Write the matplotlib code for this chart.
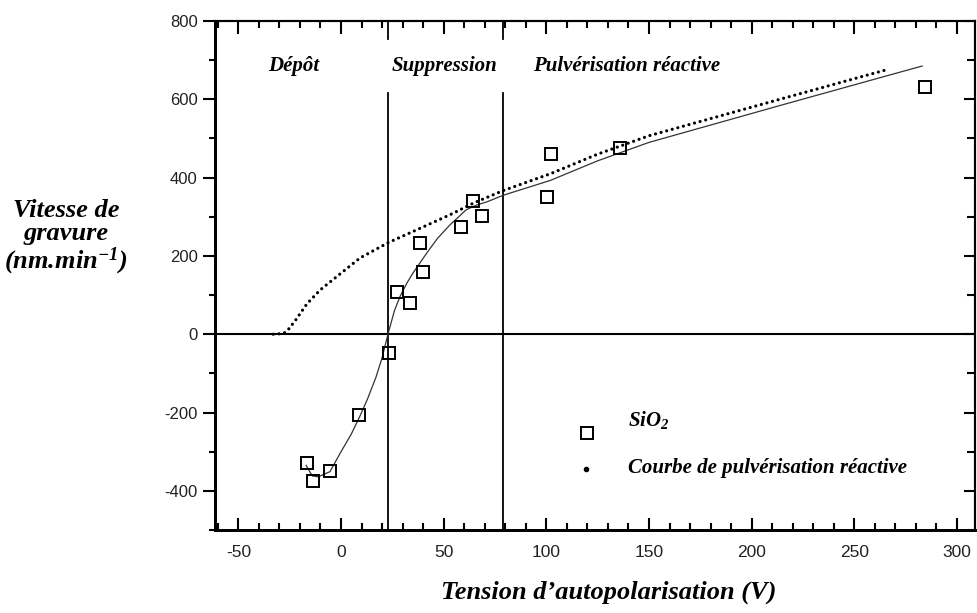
import matplotlib.pyplot as plt
from matplotlib.ticker import MultipleLocator

plt.rcParams['axes.unicode_minus'] = False
plt.rcParams['mathtext.fontset'] = 'custom'
plt.rcParams['mathtext.rm'] = 'Liberation Serif:bold:italic'
plt.rcParams['mathtext.it'] = 'Liberation Serif:bold:italic'
plt.rcParams['mathtext.bf'] = 'Liberation Serif:bold:italic'

# SiO2 etch rate measurements (V, nm/min)
sio2_v = [-16.7, -13.5, -5.4, 8.9, 23.5, 27.4, 33.6, 38.5, 39.8, 58.5, 64.2, 68.7, 100.2, 102.3, 135.9, 284.5]
sio2_rate = [-329, -375, -349, -206, -49, 108, 81, 232, 160, 273, 341, 301, 350, 461, 476, 632]

# hand-drawn trend through the SiO2 points
fit_v = [-17, -14, -11, -5.4, 0, 5, 9.3, 13, 17, 20, 23, 26, 28.7, 32, 35, 41.7, 47, 53, 61, 66, 71, 79,
         102, 125, 150, 215, 263, 283]
fit_rate = [-335, -362, -364, -351, -300, -255, -208, -164, -110, -60, 3, 60, 96, 130, 156, 207, 245, 279,
            318, 330, 338, 355, 393, 443, 490, 586, 656, 685]

# reactive sputtering curve
rs_v = [-33, -28, -26, -22.4, -16.7, -10.2, 0, 9.3, 23, 37, 53, 64.5, 79, 102, 125, 150, 215, 266]
rs_rate = [0, 2, 10, 34, 77, 113, 156, 195, 234, 267, 305, 335, 367, 410, 460, 507, 602, 676]

# regime boundaries (V)
boundaries = [23, 79]
regimes = ["Dépôt", "Suppression", "Pulvérisation réactive"]
regime_x = [-22.9, 50.6, 139.3]

xlim = (-61.4, 308.8)
ylim = (-500, 800)

serif = dict(family='Liberation Serif', weight='bold', style='italic')

fig = plt.figure(figsize=(9.78, 6.13), dpi=100)
ax = fig.add_axes([0.2198, 0.1354, 0.7772, 0.8303])

ax.axhline(0, color='black', lw=1.5, zorder=1)
for b in boundaries:
    ax.plot([b, b], [ylim[0], 617], color='black', lw=1.3, zorder=1)
    ax.plot([b, b], [754, ylim[1]], color='black', lw=1.3, zorder=1)

ax.plot(fit_v, fit_rate, color='#333333', lw=0.9, zorder=2)
ax.plot(rs_v, rs_rate, color='black', lw=2.3, ls=(0, (0.01, 1.8)),
        dash_capstyle='round', zorder=3)
ax.plot(sio2_v, sio2_rate, ls='none', marker='s', ms=8.5, mfc='none',
        mec='black', mew=1.4, zorder=4)

for name, x in zip(regimes, regime_x):
    ax.text(x, 686, name, ha='center', va='center', fontsize=15, **serif)

# key
ax.plot([0.4895], [0.1906], transform=ax.transAxes, ls='none', marker='s',
        ms=8.5, mfc='none', mec='black', mew=1.4, clip_on=False)
ax.plot([0.488], [0.12], transform=ax.transAxes, ls='none', marker='o',
        ms=3, color='black', clip_on=False)
ax.text(0.5434, 0.216, r"SiO$_2$", transform=ax.transAxes, ha='left',
        va='center', fontsize=15, **serif)
ax.text(0.5434, 0.1218, "Courbe de pulvérisation réactive", transform=ax.transAxes,
        ha='left', va='center', fontsize=15, **serif)

ax.set_xlim(*xlim)
ax.set_ylim(*ylim)
ax.xaxis.set_major_locator(MultipleLocator(50))
ax.xaxis.set_minor_locator(MultipleLocator(10))
ax.yaxis.set_major_locator(MultipleLocator(200))
ax.yaxis.set_minor_locator(MultipleLocator(100))

ax.tick_params(axis='x', which='both', direction='in', top=True, bottom=True, width=1.5)
ax.tick_params(axis='x', which='major', length=9, pad=11, labelsize=12.5)
ax.tick_params(axis='x', which='minor', length=5)
ax.tick_params(axis='y', which='both', direction='out', left=True, right=False, width=1.5)
ax.tick_params(axis='y', which='major', length=8.5, pad=4, labelsize=12)
ax.tick_params(axis='y', which='minor', length=4)
for lab in ax.get_xticklabels() + ax.get_yticklabels():
    lab.set_family('Liberation Sans')
    lab.set_color('#222222')

# inward ticks on the right spine
ax2 = ax.twinx()
ax2.set_ylim(*ylim)
ax2.yaxis.set_major_locator(MultipleLocator(200))
ax2.yaxis.set_minor_locator(MultipleLocator(100))
ax2.tick_params(axis='y', which='both', direction='in', right=True, labelright=False, width=1.5)
ax2.tick_params(axis='y', which='major', length=8)
ax2.tick_params(axis='y', which='minor', length=6)

for a in (ax, ax2):
    a.spines['left'].set_linewidth(2.0)
    a.spines['bottom'].set_linewidth(2.0)
    a.spines['top'].set_linewidth(1.5)
    a.spines['right'].set_linewidth(1.5)

fig.text(0.6227, 0.0343, "Tension d\u2019autopolarisation (V)", ha='center', va='center',
         fontsize=19, **serif)
fig.text(0.0675, 0.612, "Vitesse de\ngravure\n(nm.min$^{-1}$)", ha='center',
         va='center', fontsize=19, linespacing=1.0, **serif)

fig.savefig("out.png", dpi=100)
